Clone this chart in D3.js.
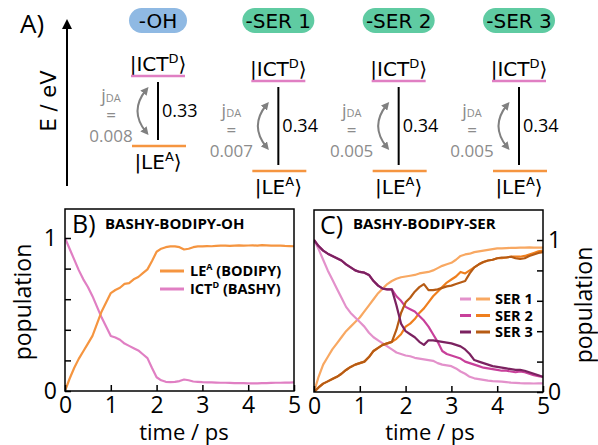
<!DOCTYPE html>
<html>
<head>
<meta charset="utf-8">
<style>
  body { margin: 0; background: #fff; }
  svg { display: block; font-family: "Open Sans", sans-serif; }
  .dv { font-family: "DejaVu Sans", sans-serif; }
</style>
</head>
<body>
<svg width="598" height="445"></svg>
<script src="https://cdn.jsdelivr.net/npm/d3@7/dist/d3.min.js"></script>
<script>

  // ---- panel A: level scheme ----
  var systems = ["-OH", "-SER 1", "-SER 2", "-SER 3"];
  var pillColors = ["#8fb9e3", "#5fcba2", "#5fcba2", "#5fcba2"];
  var gaps = [0.33, 0.34, 0.34, 0.34];
  var couplings = [0.008, 0.007, 0.005, 0.005];

  // ---- panel B / C: populations, t in ps ----
  var times = [0, 0.1, 0.2, 0.3, 0.4, 0.5, 0.6, 0.7, 0.8, 0.9,
    1.0, 1.1, 1.2, 1.3, 1.4, 1.5, 1.6, 1.7, 1.8, 1.9,
    2.0, 2.1, 2.2, 2.3, 2.4, 2.5, 2.6, 2.7, 2.8, 2.9,
    3.0, 3.1, 3.2, 3.3, 3.4, 3.5, 3.6, 3.7, 3.8, 3.9,
    4.0, 4.1, 4.2, 4.3, 4.4, 4.5, 4.6, 4.7, 4.8, 4.9, 5.0];

  var ohLE = [0, .08, .15, .21, .26, .31, .36, .44, .52, .58,
    .64, .66, .675, .70, .705, .73, .745, .77, .795, .85,
    .91, .93, .94, .945, .945, .94, .925, .93, .94, .945,
    .945, .947, .946, .948, .95, .95, .948, .95, .952, .95,
    .951, .952, .95, .953, .952, .95, .951, .95, .948, .947, .946];
  var ohICT = [1, .93, .86, .79, .73, .68, .62, .55, .48, .42,
    .36, .35, .335, .31, .295, .28, .265, .24, .215, .15,
    .09, .07, .06, .058, .06, .065, .075, .07, .062, .06,
    .058, .057, .056, .055, .054, .054, .053, .052, .052, .051,
    .05, .05, .05, .051, .052, .053, .054, .054, .055, .055, .056];

  var serNames = ["SER 1", "SER 2", "SER 3"];
  var ser1LE = [0, .10, .18, .23, .28, .32, .36, .40, .43, .46,
    .49, .53, .57, .61, .65, .68, .71, .73, .745, .755,
    .76, .765, .77, .78, .785, .79, .80, .815, .83, .84,
    .85, .87, .895, .905, .91, .92, .925, .93, .935, .94,
    .945, .945, .947, .948, .948, .95, .95, .951, .95, .95, .95];
  var ser1ICT = [1, .94, .87, .80, .74, .68, .62, .56, .52, .49,
    .46, .43, .39, .36, .34, .32, .30, .28, .26, .25,
    .24, .235, .225, .22, .215, .21, .205, .19, .18, .175,
    .17, .155, .135, .12, .10, .09, .085, .08, .075, .072,
    .07, .068, .065, .062, .06, .058, .057, .057, .056, .057, .057];
  var ser2LE = [0, .03, .055, .07, .085, .10, .12, .145, .165, .18,
    .19, .20, .23, .27, .29, .31, .32, .33, .35, .38,
    .43, .45, .48, .52, .55, .59, .63, .66, .69, .72,
    .74, .76, .79, .78, .80, .82, .84, .855, .865, .87,
    .88, .88, .885, .89, .89, .89, .895, .905, .915, .925, .93];
  var ser2ICT = [1, .96, .93, .91, .895, .88, .865, .84, .82, .80,
    .79, .785, .77, .73, .70, .68, .675, .675, .63, .60,
    .56, .545, .53, .50, .47, .43, .38, .33, .27, .25,
    .24, .23, .22, .20, .19, .18, .17, .16, .155, .15,
    .145, .14, .14, .135, .13, .135, .13, .12, .11, .105, .10];
  var ser3LE = [0, .03, .055, .07, .085, .10, .12, .145, .165, .18,
    .19, .20, .23, .27, .29, .31, .32, .33, .41, .52,
    .59, .62, .66, .69, .71, .67, .67, .675, .685, .695,
    .70, .71, .72, .73, .78, .82, .84, .855, .865, .87,
    .88, .885, .885, .89, .88, .875, .88, .895, .905, .915, .92];
  var ser3ICT = [1, .96, .93, .91, .895, .88, .865, .84, .82, .80,
    .79, .785, .77, .73, .70, .68, .675, .675, .57, .45,
    .40, .38, .36, .33, .31, .34, .34, .335, .33, .325,
    .32, .31, .30, .28, .25, .21, .20, .19, .18, .17,
    .165, .16, .155, .15, .145, .145, .14, .13, .12, .11, .10];

  var leColors = ["#f8a862", "#ef7f1e", "#b65b14"];
  var ictColors = ["#e391cb", "#c8409a", "#7b2260"];
  var ohLEColor = "#f59540", ohICTColor = "#e07fc3";

  var svg = d3.select("svg");
  var defs = svg.append("defs");

  defs.append("marker").attr("id", "headBlack")
    .attr("viewBox", "0 0 10 10").attr("refX", 5).attr("refY", 5)
    .attr("markerWidth", 5).attr("markerHeight", 5).attr("orient", "auto")
    .append("path").attr("d", "M0,0L10,5L0,10z").attr("fill", "#000");

  defs.append("marker").attr("id", "headGray")
    .attr("viewBox", "0 0 10 10").attr("refX", 5).attr("refY", 5)
    .attr("markerWidth", 4).attr("markerHeight", 4).attr("orient", "auto-start-reverse")
    .append("path").attr("d", "M0,0L10,5L0,10z").attr("fill", "#808080");

  // ===== Panel A =====
  svg.append("text").attr("x", 20).attr("y", 33).attr("font-size", 26).text("A)");

  svg.append("line")
    .attr("x1", 67).attr("y1", 186).attr("x2", 67).attr("y2", 24)
    .attr("stroke", "#000").attr("stroke-width", 2)
    .attr("marker-end", "url(#headBlack)");

  svg.append("text").attr("class", "dv")
    .attr("transform", "translate(56,101) rotate(-90)")
    .attr("text-anchor", "middle").attr("font-size", 21).text("E / eV");

  var colX = d3.scalePoint().domain(systems).range([158, 519]);

  var cols = svg.selectAll("g.col").data(systems).enter().append("g")
    .attr("class", "col")
    .attr("transform", function (d) { return "translate(" + colX(d) + ",0)"; });

  // the OH scheme is drawn a bit more compact than the SER ones
  function ictY(i) { return i === 0 ? 76 : 81; }
  function leY(i) { return i === 0 ? 146 : 171; }

  cols.append("rect")
    .attr("x", function (d, i) { return i === 0 ? -29 : -36; })
    .attr("width", function (d, i) { return i === 0 ? 58 : 72; })
    .attr("y", 8).attr("height", 25).attr("rx", 12.5)
    .attr("fill", function (d, i) { return pillColors[i]; });

  cols.append("text").attr("class", "dv")
    .attr("text-anchor", "middle").attr("y", 28).attr("font-size", 20)
    .text(function (d) { return d; });

  function ket(sel, main, sup) {
    sel.append("tspan").text("|" + main);
    sel.append("tspan").attr("font-size", 13).attr("dy", -8).text(sup);
    sel.append("tspan").attr("dy", 8).text("\u27E9");
  }

  cols.each(function (d, i) {
    var g = d3.select(this);
    var top = ictY(i), bot = leY(i), mid = (top + bot) / 2;

    g.append("text").attr("class", "dv").attr("text-anchor", "middle")
      .attr("y", top - 5).attr("font-size", 20).call(ket, "ICT", "D");
    g.append("line").attr("x1", -27).attr("x2", 27).attr("y1", top).attr("y2", top)
      .attr("stroke", ohICTColor).attr("stroke-width", 2.5);

    g.append("line").attr("x1", -26).attr("x2", 28).attr("y1", bot).attr("y2", bot)
      .attr("stroke", ohLEColor).attr("stroke-width", 2.5);
    g.append("text").attr("class", "dv").attr("text-anchor", "middle")
      .attr("y", bot + 23).attr("font-size", 20).call(ket, "LE", "A");

    g.append("line").attr("x1", 0).attr("x2", 0).attr("y1", top + 6).attr("y2", bot - 6)
      .attr("stroke", "#000").attr("stroke-width", 2);
    g.append("text").attr("x", 4).attr("y", mid + 6).attr("font-size", 18)
      .text(gaps[i].toFixed(2));

    g.append("path")
      .attr("d", "M-12," + (mid - 21) + "Q-29," + mid + " -12," + (mid + 21))
      .attr("fill", "none").attr("stroke", "#808080").attr("stroke-width", 2)
      .attr("marker-start", "url(#headGray)").attr("marker-end", "url(#headGray)");

    var jt = g.append("text").attr("text-anchor", "middle").attr("fill", "#8c8c8c")
      .attr("x", -47).attr("y", mid - 9).attr("font-size", 18);
    jt.append("tspan").text("j");
    jt.append("tspan").attr("font-size", 11).text("DA");
    g.append("text").attr("text-anchor", "middle").attr("fill", "#8c8c8c")
      .attr("x", -47).attr("y", mid + 10).attr("font-size", 17).text("=");
    g.append("text").attr("text-anchor", "middle").attr("fill", "#8c8c8c")
      .attr("x", -47).attr("y", mid + 31).attr("font-size", 17)
      .text(couplings[i].toFixed(3));
  });

  // ===== Panel B / C helpers =====
  function framePanel(x, y, top, clipId) {
    var x0 = x.range()[0], x1 = x.range()[1], y0 = y.range()[0];
    defs.append("clipPath").attr("id", clipId).append("rect")
      .attr("x", x0).attr("y", top).attr("width", x1 - x0).attr("height", y0 - top);
    return svg.append("g").attr("clip-path", "url(#" + clipId + ")");
  }

  function drawLine(g, x, y, values, color) {
    var line = d3.line()
      .x(function (d) { return x(d[0]); })
      .y(function (d) { return y(d[1]); });
    g.append("path").datum(d3.zip(times, values))
      .attr("d", line).attr("fill", "none")
      .attr("stroke", color).attr("stroke-width", 2.2)
      .attr("stroke-linejoin", "round");
  }

  function styleAxis(ax) {
    ax.select(".domain").remove();
    ax.selectAll(".tick line").attr("stroke", "#000").attr("stroke-width", 1.5);
    ax.selectAll(".tick text").attr("font-family", "Open Sans, sans-serif")
      .attr("font-size", 23).attr("fill", "#000");
  }

  var yTicks = [0, 0.2, 0.4, 0.6, 0.8, 1];
  var yFmt = function (d) { return d === 0 || d === 1 ? d : ""; };

  // ===== Panel B =====
  var xB = d3.scaleLinear().domain([0, 5]).range([65, 294]);
  var yB = d3.scaleLinear().domain([0, 1]).range([391, 238]);
  var topB = 209;

  var gB = framePanel(xB, yB, topB, "clipB");
  drawLine(gB, xB, yB, ohICT, ohICTColor);
  drawLine(gB, xB, yB, ohLE, ohLEColor);

  svg.append("g").attr("transform", "translate(0,391)")
    .call(d3.axisBottom(xB).ticks(5).tickSizeInner(-6).tickSizeOuter(0).tickPadding(6).tickFormat(d3.format("d")))
    .call(styleAxis);
  svg.append("g").attr("transform", "translate(65,0)")
    .call(d3.axisLeft(yB).tickValues(yTicks).tickSizeInner(-6).tickSizeOuter(0).tickPadding(8).tickFormat(yFmt))
    .call(styleAxis);

  svg.append("rect").attr("x", 65).attr("y", topB).attr("width", 229).attr("height", 391 - topB)
    .attr("fill", "none").attr("stroke", "#000").attr("stroke-width", 1.5);

  svg.append("text").attr("x", 72).attr("y", 233).attr("font-size", 25).text("B)");
  svg.append("text").attr("x", 105).attr("y", 229).attr("font-size", 15)
    .attr("font-weight", "bold").text("BASHY-BODIPY-OH");

  var legB = [["LE", "A", " (BODIPY)", ohLEColor], ["ICT", "D", " (BASHY)", ohICTColor]];
  legB.forEach(function (d, i) {
    var yy = 271 + i * 18;
    svg.append("line").attr("x1", 160).attr("x2", 184).attr("y1", yy).attr("y2", yy)
      .attr("stroke", d[3]).attr("stroke-width", 3);
    var t = svg.append("text").attr("x", 190).attr("y", yy + 5).attr("font-size", 14.5)
      .attr("font-weight", "bold");
    t.append("tspan").text(d[0]);
    t.append("tspan").attr("font-size", 9).attr("dy", -6).text(d[1]);
    t.append("tspan").attr("dy", 6).text(d[2]);
  });

  svg.append("text").attr("transform", "translate(31,302) rotate(-90)")
    .attr("text-anchor", "middle").attr("font-size", 23).text("population");
  svg.append("text").attr("x", 184).attr("y", 440)
    .attr("text-anchor", "middle").attr("font-size", 22).text("time / ps");

  // ===== Panel C =====
  var xC = d3.scaleLinear().domain([0, 5]).range([314, 543]);
  var yC = d3.scaleLinear().domain([0, 1]).range([392, 240]);
  var topC = 210;

  var gC = framePanel(xC, yC, topC, "clipC");
  var serLE = [ser1LE, ser2LE, ser3LE];
  var serICT = [ser1ICT, ser2ICT, ser3ICT];
  serNames.forEach(function (name, i) {
    drawLine(gC, xC, yC, serLE[i], leColors[i]);
    drawLine(gC, xC, yC, serICT[i], ictColors[i]);
  });

  svg.append("g").attr("transform", "translate(0,392)")
    .call(d3.axisBottom(xC).ticks(5).tickSizeInner(-6).tickSizeOuter(0).tickPadding(6).tickFormat(d3.format("d")))
    .call(styleAxis);
  svg.append("g").attr("transform", "translate(543,0)")
    .call(d3.axisRight(yC).tickValues(yTicks).tickSizeInner(-6).tickSizeOuter(0).tickPadding(5).tickFormat(yFmt))
    .call(styleAxis);

  svg.append("rect").attr("x", 314).attr("y", topC).attr("width", 229).attr("height", 392 - topC)
    .attr("fill", "none").attr("stroke", "#000").attr("stroke-width", 1.5);

  svg.append("text").attr("x", 320).attr("y", 234).attr("font-size", 25).text("C)");
  svg.append("text").attr("x", 353).attr("y", 229).attr("font-size", 15)
    .attr("font-weight", "bold").text("BASHY-BODIPY-SER");

  serNames.forEach(function (name, i) {
    var yy = 299 + i * 16.5;
    svg.append("line").attr("x1", 460).attr("x2", 471).attr("y1", yy).attr("y2", yy)
      .attr("stroke", ictColors[i]).attr("stroke-width", 3);
    svg.append("line").attr("x1", 476).attr("x2", 490).attr("y1", yy).attr("y2", yy)
      .attr("stroke", leColors[i]).attr("stroke-width", 3);
    svg.append("text").attr("x", 495).attr("y", yy + 5).attr("font-size", 14.5)
      .attr("font-weight", "bold").text(name);
  });

  svg.append("text").attr("transform", "translate(592,305) rotate(-90)")
    .attr("text-anchor", "middle").attr("font-size", 23).text("population");
  svg.append("text").attr("x", 430).attr("y", 440)
    .attr("text-anchor", "middle").attr("font-size", 22).text("time / ps");

</script>
</body>
</html>
